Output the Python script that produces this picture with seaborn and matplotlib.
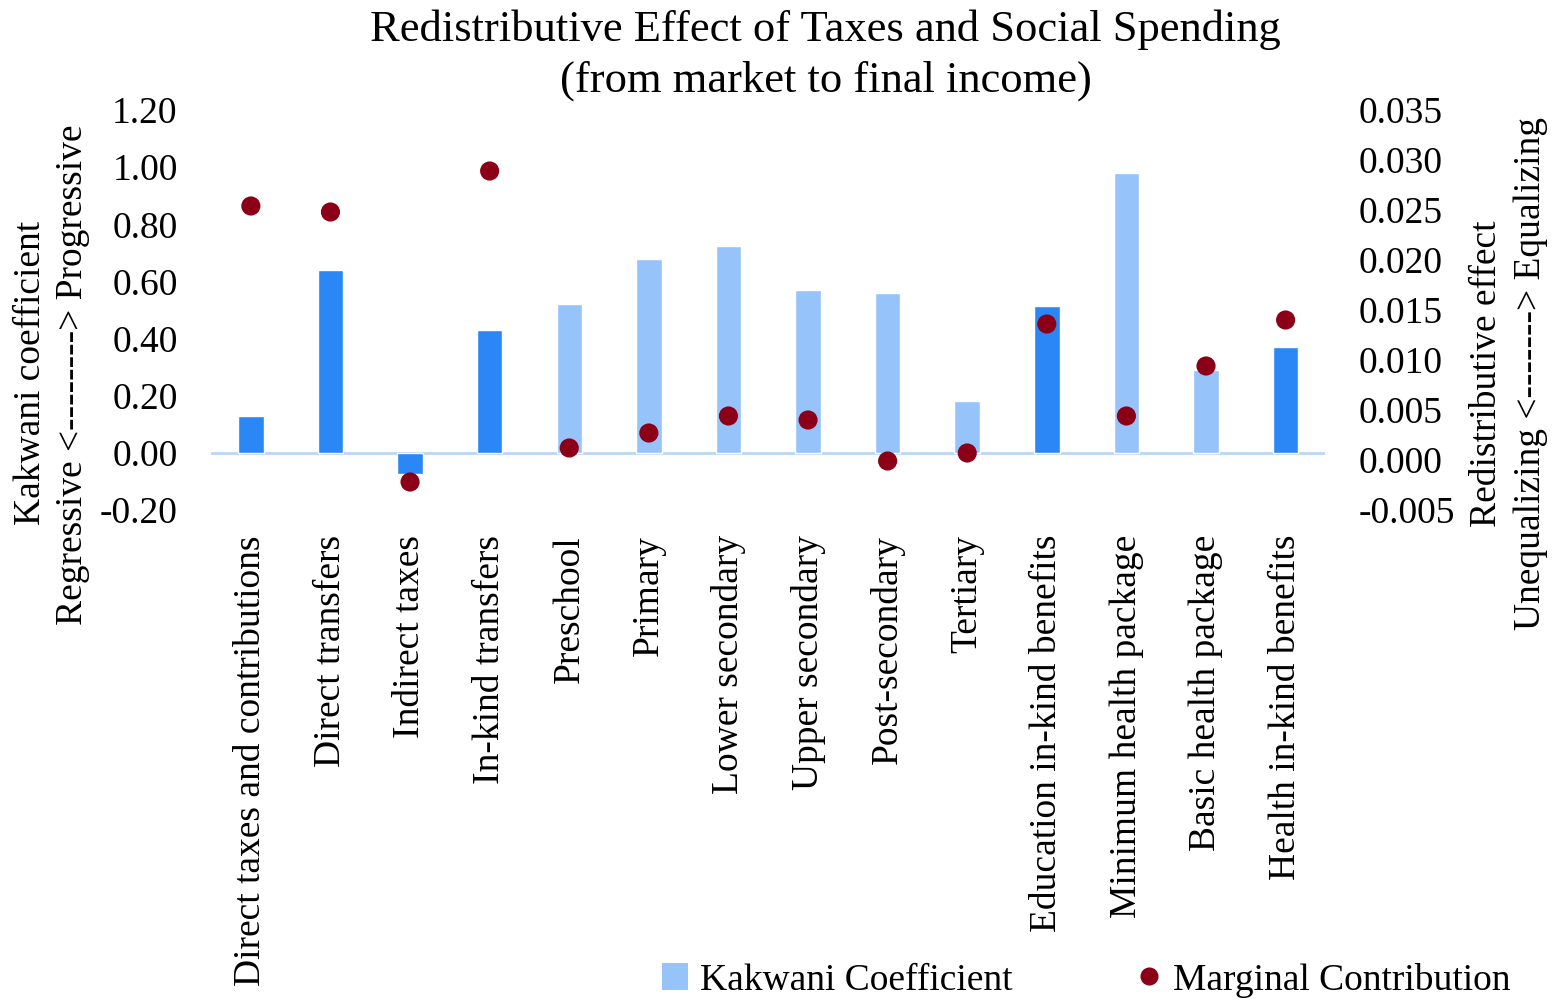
import numpy as np
import matplotlib
matplotlib.use("Agg")
import matplotlib.pyplot as plt
import seaborn as sns
from matplotlib.lines import Line2D
from matplotlib.patches import Patch
from matplotlib.ticker import FormatStrFormatter, MultipleLocator

# ================= DATA =================
categories = [
    "Direct taxes and contributions", "Direct transfers", "Indirect taxes",
    "In-kind transfers", "Preschool", "Primary", "Lower secondary",
    "Upper secondary", "Post-secondary", "Tertiary", "Education in-kind benefits",
    "Minimum health package", "Basic health package", "Health in-kind benefits",
]
kakwani = [0.13, 0.64, -0.075, 0.43, 0.52, 0.68, 0.725, 0.57, 0.56, 0.18,
           0.515, 0.98, 0.29, 0.37]
marginal = [0.0254, 0.0248, -0.0022, 0.0289, 0.0012, 0.0027, 0.0044, 0.0040,
            -0.0001, 0.0007, 0.0136, 0.0044, 0.0094, 0.0140]
# aggregate rows get the darker blue
is_aggregate = [True, True, True, True, False, False, False, False, False,
                False, True, False, False, True]

DARK_BLUE = "#2B87F6"
LIGHT_BLUE = "#97C3FB"
RED = "#8B0016"
FS = 27

sns.set_theme(style="white")
plt.rcParams["font.family"] = ["Liberation Serif", "DejaVu Serif"]
plt.rcParams["axes.unicode_minus"] = False
plt.rcParams["text.color"] = "black"
plt.rcParams["xtick.color"] = "black"
plt.rcParams["ytick.color"] = "black"

fig = plt.figure(figsize=(15.52, 10), dpi=100)
ax = fig.add_axes([0.136, 0.49, 0.718, 0.40])

colors = [DARK_BLUE if a else LIGHT_BLUE for a in is_aggregate]
sns.barplot(x=categories, y=kakwani, hue=categories, palette=colors,
            legend=False, width=0.32, saturation=1, ax=ax)
ax.axhline(0, color="#BCD6F6", lw=2, zorder=0.5)
ax.set_ylim(-0.2, 1.2)
ax.yaxis.set_major_locator(MultipleLocator(0.2))
ax.yaxis.set_major_formatter(FormatStrFormatter("%.2f"))
ax.set_xlim(-0.5, len(categories) - 0.5)
ax.tick_params(axis="y", length=0, pad=24, labelsize=FS)
ax.tick_params(axis="x", length=0, pad=18, labelsize=FS, rotation=90)
for lbl in ax.get_xticklabels():
    lbl.set_va("top")
ax.set_xlabel("")
for s in ax.spines.values():
    s.set_visible(False)

ax2 = ax.twinx()
sns.scatterplot(x=np.arange(len(marginal)), y=marginal, color=RED, s=190,
                edgecolor="none", ax=ax2, zorder=3)
ax2.set_ylim(-0.005, 0.035)
ax2.yaxis.set_major_locator(MultipleLocator(0.005))
ax2.yaxis.set_major_formatter(FormatStrFormatter("%.3f"))
ax2.tick_params(axis="y", length=0, pad=24, labelsize=FS)
ax2.set_xlim(-0.5, len(categories) - 0.5)
for s in ax2.spines.values():
    s.set_visible(False)
ax2.grid(False)
ax.grid(False)

# axis titles
fig.text(0.020, 0.627, "Kakwani coefficient", rotation=90, ha="center", va="center", fontsize=FS)
fig.text(0.047, 0.625, "Regressive <--------> Progressive", rotation=90, ha="center", va="center", fontsize=FS)
fig.text(0.958, 0.626, "Redistributive effect", rotation=90, ha="center", va="center", fontsize=FS)
fig.text(0.986, 0.626, "Unequalizing <-------> Equalizing", rotation=90, ha="center", va="center", fontsize=FS)

# title
fig.text(0.532, 0.970, "Redistributive Effect of Taxes and Social Spending",
         ha="center", va="center", fontsize=32)
fig.text(0.532, 0.919, "(from market to final income)",
         ha="center", va="center", fontsize=32)

handles = [
    Patch(facecolor=LIGHT_BLUE, edgecolor="none", label="Kakwani Coefficient"),
    Line2D([], [], marker="o", ls="none", color=RED, markersize=12,
           label="Marginal Contribution"),
]
fig.legend(handles=handles, loc="center", bbox_to_anchor=(0.70, 0.02), ncol=2,
           frameon=False, fontsize=FS, handlelength=0.7, handletextpad=0.3,
           columnspacing=3.3, handleheight=0.7)

fig.savefig("out.png", dpi=100)
